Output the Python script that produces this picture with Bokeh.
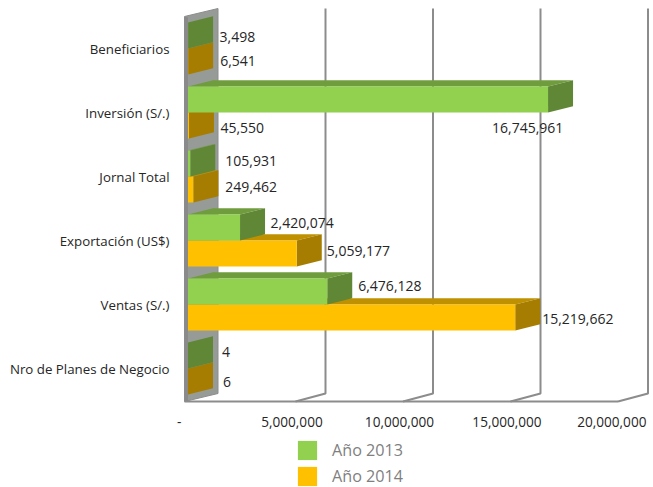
from bokeh.plotting import figure
from bokeh.models import Legend, LegendItem, FixedTicker, Range1d
from bokeh.core.properties import value
from bokeh.embed import file_html
from bokeh.resources import INLINE

# ---- data (bottom to top, as on the category axis)
categories = ["Nro de Planes de Negocio", "Ventas (S/.)", "Exportación (US$)",
              "Jornal Total", "Inversión (S/.)", "Beneficiarios"]
anio_2013 = [4, 6476128, 2420074, 105931, 16745961, 3498]
anio_2014 = [6, 15219662, 5059177, 249462, 45550, 6541]
x_ticks = [0, 5000000, 10000000, 15000000, 20000000]
x_tick_labels = ["-\u00a0\u00a0\u00a0\u00a0\u00a0", "5,000,000\u00a0\u00a0", "10,000,000\u00a0\u00a0",
                 "15,000,000\u00a0\u00a0", "20,000,000\u00a0\u00a0"]
series_names = ["Año 2013", "Año 2014"]

# ---- styling / geometry
PX_X = 5000000 / 107.5      # value units per pixel
PX_Y = 1 / 64               # category units per pixel
ZERO_PX, CAT0_PX = 187.5, 368
W, H = 653, 487
LEFT = 176
DX, DY = 25 * PX_X, 6.3 * PX_Y          # bar depth
GX, GY = 30 * PX_X, 8 * PX_Y            # floor depth
BAR = 26 * PX_Y
FLOOR = -33 * PX_Y
TOP = 352 * PX_Y
GREEN = ("#92D050", "#6F9C3D", "#5F8735")
AMBER = ("#FFC000", "#BF9000", "#A67D00")
GRID = "#8C8C8C"
# label nudges in pixels: (dx from bar end, dy from bar centre)
off_2013 = [(34, -4), (31, -6), (30.5, -5), (35, -3), (-56, 28), (31.5, 1)]
off_2014 = [(35, 0), (27, 1), (30, -3), (32, -3), (31.5, 2), (32, -1)]

p = figure(width=W, height=H, output_backend="svg", toolbar_location=None,
           min_border_left=LEFT, min_border_right=0, min_border_top=0, min_border_bottom=0,
           x_range=Range1d((LEFT - ZERO_PX) * PX_X, (W - ZERO_PX) * PX_X),
           y_range=Range1d((CAT0_PX - H) * PX_Y, CAT0_PX * PX_Y))
p.outline_line_color = None
p.grid.visible = False
p.background_fill_color = "white"

# wall
wall_l = -3.5 * PX_X
p.patch([wall_l, GX, GX, wall_l], [TOP, TOP + GY, FLOOR + GY, FLOOR],
        fill_color="#979B97", line_color="#8C8C8C", line_width=1)
p.patch([wall_l, 0, 0, wall_l], [TOP, TOP - 1 * PX_Y, FLOOR, FLOOR],
        fill_color="#8A8A8A", line_color=None)

# gridlines and floor
xs = [[t, t + GX, t + GX] for t in x_ticks[1:]]
ys = [[FLOOR, FLOOR + GY, TOP + GY] for t in x_ticks[1:]]
p.multi_line(xs, ys, line_color=GRID, line_width=2)
p.line([wall_l, x_ticks[-1]], [FLOOR, FLOOR], line_color=GRID, line_width=2)


def bars(vals, ybase, cols):
    fr, tp, sd = cols
    tx = [[0, v, v + DX, DX] for v in vals]
    ty = [[c + ybase + BAR, c + ybase + BAR, c + ybase + BAR + DY, c + ybase + BAR + DY]
          for c in range(len(vals))]
    sx = [[v, v + DX, v + DX, v] for v in vals]
    sy = [[c + ybase, c + ybase + DY, c + ybase + BAR + DY, c + ybase + BAR]
          for c in range(len(vals))]
    p.patches(tx, ty, fill_color=tp, line_color=None)
    p.patches(sx, sy, fill_color=sd, line_color=None)
    return p.quad(left=[0] * len(vals), right=vals,
                  bottom=[c + ybase for c in range(len(vals))],
                  top=[c + ybase + BAR for c in range(len(vals))],
                  fill_color=fr, line_color=None)


r14 = bars(anio_2014, -BAR, AMBER)
r13 = bars(anio_2013, 0, GREEN)


def labels(vals, ybase, offs):
    p.text(x=vals, y=[c + ybase for c in range(len(vals))],
           text=[f"{v:,}" for v in vals],
           x_offset=[o[0] for o in offs], y_offset=[o[1] for o in offs],
           text_font=value("Open Sans"), text_font_size="14px", text_color="#262626",
           text_align="left", text_baseline="middle")


labels(anio_2013, BAR / 2, off_2013)
labels(anio_2014, -BAR / 2, off_2014)

# axes
ax = p.xaxis[0]
ax.fixed_location = FLOOR
ax.ticker = FixedTicker(ticks=x_ticks)
ax.major_label_overrides = {t: l for t, l in zip(x_ticks, x_tick_labels)}
ax.axis_line_color = None
ax.major_tick_line_color = None
ax.minor_tick_line_color = None
ax.major_label_standoff = 4
ax.major_label_text_font = "Open Sans"
ax.major_label_text_font_size = "13.6px"
ax.major_label_text_color = "#262626"

ay = p.yaxis[0]
ay.ticker = FixedTicker(ticks=list(range(len(categories))))
ay.major_label_overrides = {i: c for i, c in enumerate(categories)}
ay.axis_line_color = None
ay.major_tick_line_color = None
ay.minor_tick_line_color = None
ay.major_label_standoff = 1
ay.major_label_text_font = "Open Sans"
ay.major_label_text_font_size = "13.3px"
ay.major_label_text_color = "#262626"

leg = Legend(items=[LegendItem(label=series_names[0], renderers=[r13]),
                    LegendItem(label=series_names[1], renderers=[r14])],
             location=(295 - LEFT, -1), orientation="vertical",
             glyph_width=24, glyph_height=24, spacing=2, padding=0, margin=0,
             border_line_color=None, background_fill_color=None, background_fill_alpha=0,
             label_standoff=13, label_text_font="Open Sans", label_text_font_size="16.2px",
             label_text_baseline="bottom",
             label_text_color="#7F7F7F", label_height=24)
p.add_layout(leg)

open("out.html", "w").write(file_html(p, INLINE))
